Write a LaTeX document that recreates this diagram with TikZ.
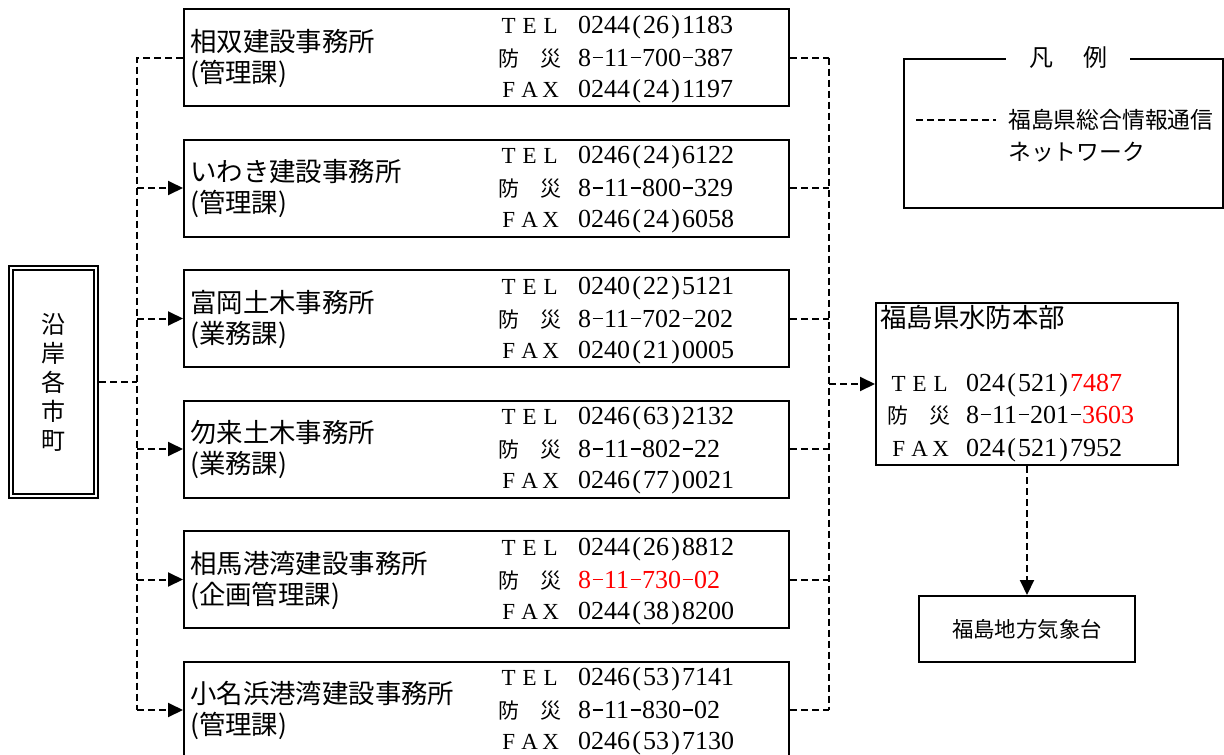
\documentclass[tikz,border=0pt]{standalone}
\usepackage{fontspec}
\usetikzlibrary{arrows.meta}
\newfontfamily\jp{Noto Sans CJK JP}
\newfontfamily\num{Liberation Serif}
\newcommand\pp[1]{\makebox[13pt]{#1}}
\newcommand\ph[3]{#1\pp{(}#2\pp{)}#3}
\newcommand\hy{\makebox[13pt]{\rule[7.6pt]{10pt}{1.9pt}}}
\newcommand\tellab{\makebox[21pt]{T}\makebox[21pt]{E}\makebox[21pt]{L}}
\newcommand\faxlab{\makebox[21pt]{F}\makebox[21pt]{A}\makebox[21pt]{X}}
\tikzset{
  box/.style={draw, line width=2pt, rectangle, inner sep=0pt, anchor=north west},
  net/.style={line width=2pt, dash pattern=on 7pt off 4pt},
  arr/.style={net, -{Triangle[length=15pt,width=14pt]}},
  jpname/.style={anchor=base west, inner sep=0pt, font=\jp\fontsize{26.4}{30}\selectfont},
  lab/.style={anchor=base west, inner sep=0pt, font=\num\fontsize{23}{23}\selectfont},
  bslab/.style={anchor=base west, inner sep=0pt, font=\jp\fontsize{21}{21}\selectfont},
  numst/.style={anchor=base west, inner sep=0pt, font=\num\fontsize{26}{26}\selectfont},
  legtxt/.style={anchor=base west, inner sep=0pt, font=\jp\fontsize{22.8}{22.8}\selectfont},
}
\newcommand\officebox[7]{%
  \node[box, minimum width=605pt, minimum height=97pt] (b#1) at (183,#2) {};
  \node[jpname] (b#1-n1) at ({190},{#2+43}) {#3};
  \node[jpname] (b#1-n2) at ({190},{#2+74}) {#4};
  \node[lab] (b#1-tl) at ({498},{#2+25}) {\tellab};
  \node[bslab] (b#1-bl) at ({498},{#2+58}) {防　災};
  \node[lab] (b#1-fl) at ({498},{#2+89}) {\faxlab};
  \node[numst] (b#1-tn) at ({578},{#2+25}) {#5};
  \node[numst] (b#1-bn) at ({578},{#2+58}) {#6};
  \node[numst] (b#1-fn) at ({578},{#2+89}) {#7};
}
\begin{document}
\begin{tikzpicture}[x=1pt,y=-1pt]
\useasboundingbox (0,0) rectangle (1224,755);
\clip (0,0) rectangle (1224,755);
\fill[white] (0,0) rectangle (1224,755);

% coastal municipalities
\node[draw, double, double distance=2.6pt, line width=1.9pt, outer sep=3.2pt,
      minimum width=85pt, minimum height=228pt, inner sep=0pt, align=center,
      font=\jp\fontsize{24}{29}\selectfont] (city) at (53.5,382) {沿\\岸\\各\\市\\町};

\officebox{1}{8}{相双建設事務所}{(管理課)}{\ph{0244}{26}{1183}}{8\hy11\hy700\hy387}{\ph{0244}{24}{1197}}
\officebox{2}{138.5}{いわき建設事務所}{(管理課)}{\ph{0246}{24}{6122}}{8\hy11\hy800\hy329}{\ph{0246}{24}{6058}}
\officebox{3}{269}{富岡土木事務所}{(業務課)}{\ph{0240}{22}{5121}}{8\hy11\hy702\hy202}{\ph{0240}{21}{0005}}
\officebox{4}{399.5}{勿来土木事務所}{(業務課)}{\ph{0246}{63}{2132}}{8\hy11\hy802\hy22}{\ph{0246}{77}{0021}}
\officebox{5}{530}{相馬港湾建設事務所}{(企画管理課)}{\ph{0244}{26}{8812}}{\color{red}8\hy11\hy730\hy02}{\ph{0244}{38}{8200}}
\officebox{6}{660.5}{小名浜港湾建設事務所}{(管理課)}{\ph{0246}{53}{7141}}{8\hy11\hy830\hy02}{\ph{0246}{53}{7130}}

% headquarters
\node[box, minimum width=302pt, minimum height=162pt] (hq) at (875,302) {};
\node[jpname] (hq-n) at (880,327) {福島県水防本部};
\node[lab] (hq-tl) at (888,391) {\tellab};
\node[bslab] (hq-bl) at (887,423) {防　災};
\node[lab] (hq-fl) at (888,456) {\faxlab};
\node[numst] (hq-tn) at (966,391) {\ph{024}{521}{\textcolor{red}{7487}}};
\node[numst] (hq-bn) at (966,423) {8\hy11\hy201\hy\textcolor{red}{3603}};
\node[numst] (hq-fn) at (966,456) {\ph{024}{521}{7952}};

% meteorological observatory
\node[box, minimum width=216pt, minimum height=66pt, font=\jp\fontsize{21.4}{21.4}\selectfont] (kis) at (918,595) {福島地方気象台};

% legend
\node[box, minimum width=319pt, minimum height=149pt] (leg) at (903,58) {};
\node[fill=white, inner xsep=23pt, inner ysep=2pt, font=\jp\fontsize{24}{24}\selectfont] (legt) at (1068,57) {凡\hspace{30pt}例};
\coordinate (ls) at (916,120);
\coordinate (le) at (996,120);
\draw[line width=1.6pt, dash pattern=on 7pt off 4pt] (ls) -- (le);
\node[legtxt] (leg1) at (1008,128.5) {福島県総合情報通信};
\node[legtxt] (leg2) at (1008,160.5) {ネットワーク};

% connectors
\coordinate (L) at (137,382);
\coordinate (R) at (829,382);
\draw[net] (city.east) -- (L);
\draw[net] (b1.west) -- (b1.west -| L) -- (b6.west -| L);
\foreach \i in {2,...,6} \draw[arr] (b\i.west -| L) -- (b\i.west);
\foreach \i in {1,...,6} \draw[net] (b\i.east) -- (b\i.east -| R);
\draw[net] (b1.east -| R) -- (b6.east -| R);
\draw[arr] (hq.west -| R) -- (hq.west);
\draw[arr] (hq.south) -- (kis.north);
\end{tikzpicture}
\end{document}
